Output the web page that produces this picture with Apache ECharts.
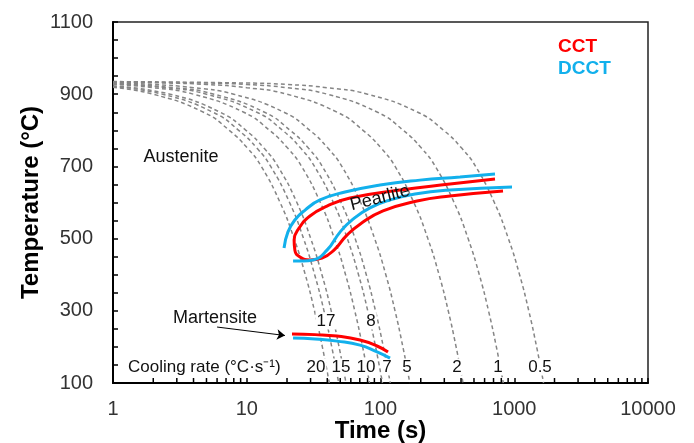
<!DOCTYPE html>
<html>
<head>
<meta charset="utf-8">
<script src="https://cdn.jsdelivr.net/npm/echarts@6/dist/echarts.min.js"></script>
<style>
  html, body { margin: 0; padding: 0; background: #fff; }
  #chart { width: 694px; height: 443px; }
</style>
</head>
<body>
<div id="chart"></div>
<script>
// dashed cooling curves, [time s, temperature °C]
const rate20 = [[1, 919], [2.0, 900], [4.75, 850], [7.4, 800], [10.15, 750], [12.85, 700], [17.75, 600], [22.6, 500], [27.4, 400], [32.1, 300], [36.75, 200], [41.4, 100]]
const rate17 = [[1, 921], [2.35, 900], [5.6, 850], [8.7, 800], [11.95, 750], [15.1, 700], [20.9, 600], [26.6, 500], [32.2, 400], [37.8, 300], [43.2, 200], [48.7, 100]]
const rate15 = [[1, 923], [2.67, 900], [6.33, 850], [9.87, 800], [13.5, 750], [17.1, 700], [23.7, 600], [30.1, 500], [36.5, 400], [42.8, 300], [49, 200], [55.2, 100]]
const rate10 = [[1, 927], [2, 918], [4, 900], [9.5, 850], [14.8, 800], [20.3, 750], [25.7, 700], [35.5, 600], [45.2, 500], [54.8, 400], [64.2, 300], [73.5, 200], [82.8, 100]]
const rate8 = [[1, 929], [2.5, 918], [5, 900], [11.9, 850], [18.5, 800], [25.4, 750], [32.1, 700], [44.4, 600], [56.5, 500], [68.5, 400], [80.3, 300], [91.9, 200], [103.5, 100]]
const rate7 = [[1, 929], [2.86, 918], [5.7, 900], [13.6, 850], [21.1, 800], [29, 750], [36.7, 700], [50.7, 600], [64.6, 500], [78.3, 400], [91.7, 300], [105, 200], [118.3, 100]]
const rate5 = [[1, 931], [2, 927], [4, 918], [8, 900], [19, 850], [29.6, 800], [40.6, 750], [51.4, 700], [71, 600], [90.4, 500], [109.6, 400], [128.4, 300], [147, 200], [165.6, 100]]
const rate2 = [[1, 933], [2.5, 931], [5, 927], [10, 918], [20, 900], [47.5, 850], [74, 800], [101.5, 750], [128.5, 700], [177.5, 600], [226, 500], [274, 400], [321, 300], [367.5, 200], [414, 100]]
const rate1 = [[1, 934], [5, 931], [10, 927], [20, 918], [40, 900], [95, 850], [148, 800], [203, 750], [257, 700], [355, 600], [452, 500], [548, 400], [642, 300], [735, 200], [828, 100]]
const rate05 = [[1, 935], [10, 931], [20, 927], [40, 918], [80, 900], [190, 850], [296, 800], [406, 750], [514, 700], [710, 600], [904, 500], [1096, 400], [1284, 300], [1470, 200], [1656, 100]]
const coolingCurves = [rate20, rate17, rate15, rate10, rate8, rate7, rate5, rate2, rate1, rate05]

// CCT (red) pearlite C-curve, drawn in one stroke round the nose
const cctPearlite = [[718, 665], [331, 651], [140, 634.6], [59.2, 612.5], [39.8, 590], [29.7, 562.6], [24.6, 529], [22.6, 496], [22.9, 468], [25.0, 449], [29.7, 440.7], [36.5, 446], [45.7, 471], [55.2, 507], [70.3, 540], [104.4, 576.5], [187.5, 604], [331, 618], [824, 632]]
const cctMartensite = [[21.8, 235.7], [32.4, 234], [47.3, 230], [70.3, 219], [94.2, 202.5], [113.8, 186]]
// DCCT (blue)
const dcctStart = [[19.0, 474], [20.3, 518], [22.9, 551.5], [27.3, 579], [35.3, 607], [54.3, 629], [99.2, 648.5], [197, 662], [393, 670.6], [718, 679]]
const dcctFinish = [[22.2, 438], [26.3, 438], [31.3, 440.7], [39.8, 468], [49.8, 518], [62.3, 554], [83.4, 585], [117.8, 607], [181, 623.5], [331, 634.6], [962, 643]]
const dcctMartensite = [[22.2, 224.7], [32.4, 222], [47.3, 216], [70.3, 205], [94.2, 186], [117.8, 169]]

const martensiteArrow = [[6.0, 255], [19.3, 231.6]]
const minorTicks = [2, 3, 4, 5, 6, 7, 8, 9, 20, 30, 40, 50, 60, 70, 80, 90, 200, 300, 400, 500, 600, 700, 800, 900, 2000, 3000, 4000, 5000, 6000, 7000, 8000, 9000]

const FONT = 'Liberation Sans, Arial, sans-serif'
const RED = '#ff0000'
const BLUE = '#12b0ec'

const chart = echarts.init(document.getElementById('chart'))

const dashed = coolingCurves.map(d => ({
  type: 'line',
  data: d,
  smooth: true,
  symbol: 'none',
  silent: true,
  z: 1,
  lineStyle: { color: '#858585', width: 1.5, type: [4, 3] }
}))

const solid = (data, color, z) => ({
  type: 'line',
  data: data,
  smooth: true,
  symbol: 'none',
  silent: true,
  z: z,
  lineStyle: { color: color, width: 3 }
})

// small texts placed over the plot
const txt = (text, x, y, opts) => Object.assign({
  type: 'text',
  x: x,
  y: y,
  z: 100,
  style: Object.assign({
    text: text,
    font: '17px ' + FONT,
    fill: '#111',
    align: 'center',
    verticalAlign: 'middle'
  }, (opts && opts.style) || {})
}, (opts && opts.el) || {})

// labels sitting on the dashed lines get a white box, under the coloured lines
const white = { el: { z: 2 }, style: { backgroundColor: '#fff', padding: [0, 1] } }

const option = {
  animation: false,
  backgroundColor: '#fff',
  grid: {
    left: 113, right: 46, top: 22, bottom: 60,
    outerBoundsMode: 'none',
    show: true, borderColor: '#222', borderWidth: 1.5
  },
  xAxis: {
    type: 'log',
    logBase: 10,
    min: 1,
    max: 10000,
    name: 'Time (s)',
    nameLocation: 'middle',
    nameGap: 36,
    nameMoveOverlap: false,
    nameTextStyle: { fontSize: 24, fontWeight: 'bold', color: '#000', fontFamily: FONT },
    axisLine: { lineStyle: { color: '#000', width: 2 } },
    axisTick: { inside: true, length: 5, lineStyle: { color: '#000', width: 1.5 } },
    axisLabel: { fontSize: 20, color: '#333', margin: 16, fontFamily: FONT, formatter: v => String(v) },
    splitLine: { show: false }
  },
  yAxis: {
    type: 'value',
    min: 100,
    max: 1100,
    interval: 50,
    name: 'Temperature (°C)',
    nameLocation: 'middle',
    nameGap: 70,
    nameMoveOverlap: false,
    nameRotate: 90,
    nameTextStyle: { fontSize: 24, fontWeight: 'bold', color: '#000', fontFamily: FONT },
    axisLine: { show: true, lineStyle: { color: '#000', width: 2 } },
    axisTick: { inside: true, length: 5, lineStyle: { color: '#000', width: 1.5 } },
    axisLabel: {
      fontSize: 20, color: '#333', margin: 20, fontFamily: FONT,
      formatter: v => ((v - 100) % 200 === 0 ? String(v) : '')
    },
    splitLine: { show: false }
  },
  series: dashed.concat([
    solid(cctPearlite, RED, 3),
    solid(dcctStart, BLUE, 4),
    solid(dcctFinish, BLUE, 4),
    Object.assign(solid(cctMartensite, RED, 4), {
      markLine: {
        silent: true,
        symbol: ['none', 'arrow'],
        symbolSize: 8,
        label: { show: false },
        lineStyle: { color: '#000', width: 1, type: 'solid' },
        data: [[{ coord: martensiteArrow[0] }, { coord: martensiteArrow[1] }]]
      }
    }),
    solid(dcctMartensite, BLUE, 3),
    {
      // minor ticks of the log axis
      type: 'custom',
      silent: true,
      z: 5,
      data: minorTicks.map(t => [t, 100]),
      renderItem: (params, api) => {
        const p = api.coord([api.value(0), api.value(1)])
        return {
          type: 'line',
          shape: { x1: p[0], y1: p[1], x2: p[0], y2: p[1] - 5 },
          style: { stroke: '#000', lineWidth: 1.5 }
        }
      }
    }
  ]),
  graphic: {
    elements: [
      txt('Austenite', 181, 157, { style: { font: '18px ' + FONT } }),
      txt('Martensite', 215, 318, { style: { font: '18px ' + FONT } }),
      txt('Pearlite', 380, 198, { el: { rotation: 0.25 }, style: { font: '18px ' + FONT } }),
      txt('17', 326, 321, white),
      txt('8', 371, 321, white),
      txt('Cooling rate (°C·s⁻¹)', 127, 367, { el: { z: 2 }, style: { align: 'left', backgroundColor: '#fff', padding: [0, 1] } }),
      txt('20', 316, 367, white),
      txt('15', 341, 367, white),
      txt('10', 366, 367, white),
      txt('7', 387, 367, white),
      txt('5', 407, 367, white),
      txt('2', 457, 367, white),
      txt('1', 498, 367, white),
      txt('0.5', 540, 367, white),
      txt('CCT', 558, 47, { style: { align: 'left', font: 'bold 19px ' + FONT, fill: RED } }),
      txt('DCCT', 558, 69, { style: { align: 'left', font: 'bold 19px ' + FONT, fill: BLUE } })
    ]
  }
}

chart.setOption(option)
</script>
</body>
</html>
